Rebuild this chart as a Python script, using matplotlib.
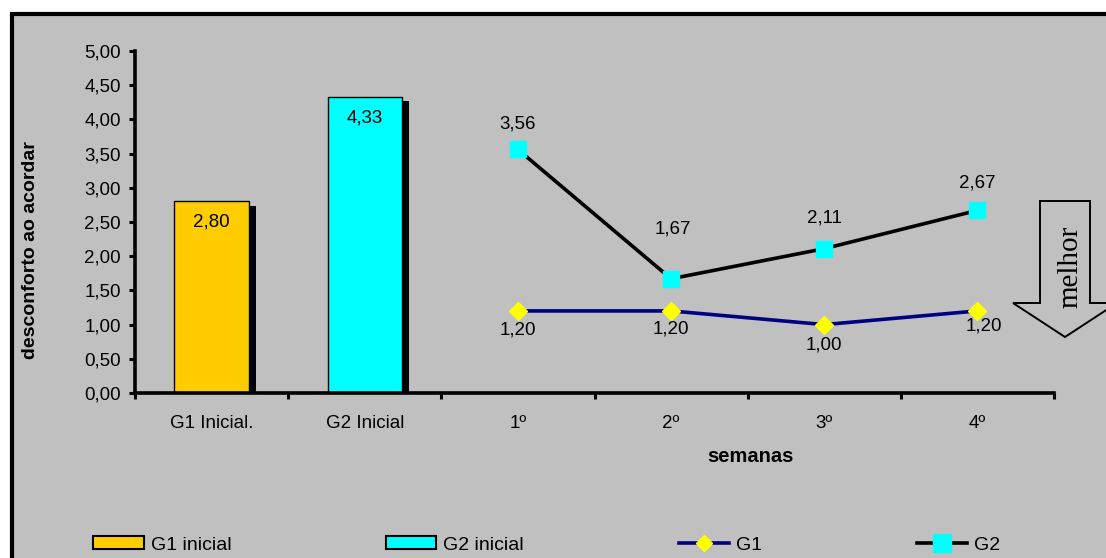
import numpy as np
import matplotlib
matplotlib.use("Agg")
import matplotlib.pyplot as plt
from matplotlib.patches import Rectangle, Polygon, Patch
from matplotlib.lines import Line2D
from matplotlib.ticker import FuncFormatter, FixedLocator

plt.rcParams['font.family'] = ['Liberation Sans', 'DejaVu Sans']

categories = ["G1 Inicial.", "G2 Inicial", "1º", "2º", "3º", "4º"]
initial_labels = ["G1 inicial", "G2 inicial"]
initial_values = [2.80, 4.33]
g1_weeks = [1.20, 1.20, 1.00, 1.20]
g2_weeks = [3.56, 1.67, 2.11, 2.67]

W, H = 1106, 558
BG = '#C0C0C0'
FS = 13.5


def fmt(v):
    return f"{v:.2f}".replace('.', ',')


fig = plt.figure(figsize=(W / 100, H / 100), dpi=100)
fig.patch.set_facecolor('white')

# gray chart area with black frame (right and bottom run off the page)
frame = Rectangle((12 / W, -0.05), 1.2, 1 - 14 / H + 0.05,
                  transform=fig.transFigure, facecolor=BG,
                  edgecolor='black', lw=3, zorder=-10)
fig.patches.append(frame)

ax = fig.add_axes([135 / W, 1 - 393 / H, (1054 - 135) / W, (393 - 51) / H])
ax.set_facecolor('none')

x = np.arange(len(categories))
xb = x[:2]
xl = x[2:]

bar_colors = ['#FFCC00', '#00FFFF']
bw = 0.485
# drop shadow behind the bars
ax.bar(xb + 0.045, np.array(initial_values) - 0.065, width=bw, color='black', zorder=1)
ax.bar(xb, initial_values, width=bw, color=bar_colors, edgecolor='black', lw=1, zorder=2)
for xi, v in zip(xb, initial_values):
    ax.annotate(fmt(v), (xi, v), xytext=(0, -15), textcoords='offset points',
                ha='center', va='center', fontsize=FS, zorder=5)

ax.plot(xl, g1_weeks, color='#000080', lw=2.6, marker='D', ms=9.5,
        mfc='#FFFF00', mec='#FFFF00', zorder=3)
ax.plot(xl, g2_weeks, color='black', lw=2.6, marker='s', ms=11,
        mfc='#00FFFF', mec='#00FFFF', zorder=4)

g1_offsets = [(0, -14), (0, -13), (0, -15), (5, -11)]
g2_offsets = [(0, 18.5), (1, 36), (0, 22), (0, 20)]
for xi, v, off in zip(xl, g1_weeks, g1_offsets):
    ax.annotate(fmt(v), (xi, v), xytext=off, textcoords='offset points',
                ha='center', va='center', fontsize=FS, zorder=5)
for xi, v, off in zip(xl, g2_weeks, g2_offsets):
    ax.annotate(fmt(v), (xi, v), xytext=off, textcoords='offset points',
                ha='center', va='center', fontsize=FS, zorder=5)

ax.set_xlim(-0.5, len(categories) - 0.5)
ax.set_ylim(0, 5)
ax.set_yticks(np.arange(0, 5.01, 0.5))
ax.yaxis.set_major_formatter(FuncFormatter(lambda v, p: fmt(v)))
ax.set_xticks(x)
ax.set_xticklabels(categories)
ax.xaxis.set_minor_locator(FixedLocator(np.arange(-0.5, len(categories), 1.0)))
ax.tick_params(axis='x', which='major', length=0, pad=15.5, labelsize=FS)
ax.tick_params(axis='x', which='minor', length=4.5, width=2.2, direction='out')
ax.tick_params(axis='y', length=4.5, width=2.2, direction='out', pad=5.5, labelsize=FS)

for side in ['top', 'right']:
    ax.spines[side].set_visible(False)
for side in ['left', 'bottom']:
    ax.spines[side].set_linewidth(2.6)

fig.text(750 / W, 1 - 457 / H, "semanas", ha='center', va='center',
         fontsize=14.5, fontweight='bold')
fig.text(31 / W, 1 - 250 / H, "desconforto ao acordar", ha='center', va='center',
         rotation=90, fontsize=14, fontweight='bold')

# "better" arrow pointing down
pts = [(1040, 201), (1090, 201), (1090, 303), (1117, 303),
       (1065, 337), (1013, 303), (1040, 303)]
arrow = Polygon([(px / W, 1 - py / H) for px, py in pts], closed=True,
                transform=fig.transFigure, facecolor=BG, edgecolor='black',
                lw=1.4, zorder=3)
fig.patches.append(arrow)
fig.text(1070 / W, 1 - 267 / H, "melhor", rotation=90, ha='center', va='center',
         fontsize=21, family=['Liberation Serif', 'DejaVu Serif'], zorder=4)

handles = [
    Patch(facecolor=bar_colors[0], edgecolor='black', lw=1.5),
    Patch(facecolor=bar_colors[1], edgecolor='black', lw=1.5),
    Line2D([], [], color='#000080', lw=2.6, marker='D', ms=8.5,
           mfc='#FFFF00', mec='#FFFF00'),
    Line2D([], [], color='black', lw=2.6, marker='s', ms=13.5,
           mfc='#00FFFF', mec='#00FFFF'),
]
fig.legend(handles, initial_labels + ["G1", "G2"], ncol=4, loc='center left',
           bbox_to_anchor=(93 / W, 1 - 545 / H), frameon=False, fontsize=14,
           borderpad=0, borderaxespad=0, handlelength=2.6, handleheight=0.62,
           handletextpad=0.36, columnspacing=7.95)

fig.savefig("out.png", dpi=100)
